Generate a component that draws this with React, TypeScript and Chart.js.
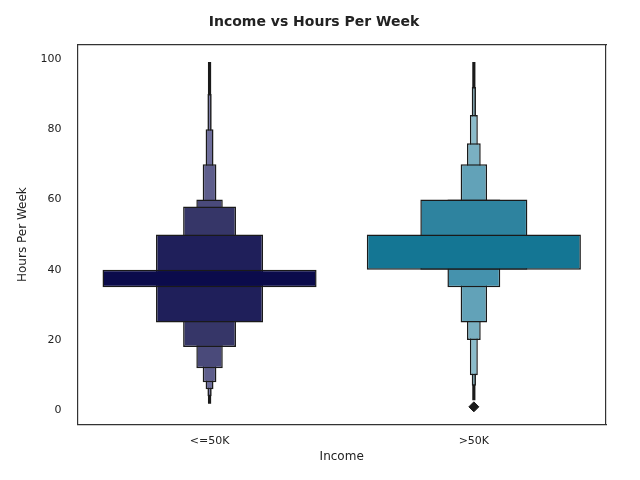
import { useRef, useEffect } from 'react'
import { Chart, registerables } from 'chart.js'

Chart.register(...registerables)

const categories = ['<=50K', '>50K']
// nested letter-value boxes, widest first: [low, high] per category
const levels: [number, number][][] = [
  [[35, 40], [40, 50]],
  [[25, 50], [40, 60]],
  [[18, 58], [35, 60]],
  [[12, 60], [25, 70]],
  [[8, 70], [20, 76]],
  [[6, 80], [10, 84]],
  [[4, 90], [7, 92]],
]
const levelWidths = [0.81, 0.405, 0.2, 0.1, 0.052, 0.03, 0.016]
const levelColors = [
  ['#0b0b4b', '#147694'],
  ['#1f1f5a', '#2e839f'],
  ['#363668', '#4592ad'],
  ['#4a4a7a', '#62a2b8'],
  ['#5e5e8c', '#7ab0c2'],
  ['#6e6e9c', '#8bbccb'],
  ['#8080aa', '#9cc7d4'],
]
const whiskers: [number, number][] = [[2, 99], [3, 99]]
const outliers = [null, 1]

export default function App() {
  const canvasRef = useRef<HTMLCanvasElement>(null)

  useEffect(() => {
    if (!canvasRef.current) return
    const boxSets: any[] = levels.map((data, i) => ({
      type: 'bar',
      data,
      order: i,
      backgroundColor: levelColors[i],
      borderColor: '#1a1a1a',
      borderWidth: 1.5,
      borderSkipped: false,
      barPercentage: levelWidths[i],
      categoryPercentage: 1,
      grouped: false,
    }))
    const chart = new Chart(canvasRef.current, {
      type: 'bar',
      data: {
        labels: categories,
        datasets: [
          {
            type: 'line',
            data: outliers,
            order: -1,
            showLine: false,
            pointStyle: 'rectRot',
            pointRadius: 5,
            backgroundColor: '#1a1a1a',
            borderColor: '#1a1a1a',
          } as any,
          ...boxSets,
          {
            type: 'bar',
            data: whiskers,
            order: 100,
            backgroundColor: '#1a1a1a',
            barThickness: 2.5,
            grouped: false,
          },
        ],
      },
      options: {
        animation: false,
        responsive: false,
        layout: { padding: { left: 14, right: 26, bottom: 16 } },
        plugins: {
          legend: { display: false },
          tooltip: { enabled: false },
          title: {
            display: true,
            text: 'Income vs Hours Per Week',
            color: '#222',
            font: { family: 'DejaVu Sans', size: 14, weight: 'bold' },
            padding: { top: 14, bottom: 6 },
          },
        },
        scales: {
          x: {
            grid: { display: false },
            border: { color: '#333', width: 1.2 },
            ticks: { color: '#222', font: { family: 'DejaVu Sans', size: 11 }, padding: 2 },
            title: { display: true, text: 'Income', color: '#222', font: { family: 'DejaVu Sans', size: 12 }, padding: 0 },
          },
          x2: {
            position: 'top',
            grid: { display: false },
            ticks: { display: false },
            border: { color: '#333', width: 1.2 },
          },
          y: {
            min: -4,
            max: 104,
            grid: { display: false },
            border: { color: '#333', width: 1.2 },
            ticks: {
              stepSize: 20,
              color: '#222',
              font: { family: 'DejaVu Sans', size: 11 },
              padding: 8,
              callback: (v: any) => (v % 20 === 0 && v >= 0 ? v : ''),
            },
            title: { display: true, text: 'Hours Per Week', color: '#222', font: { family: 'DejaVu Sans', size: 12 }, padding: 2 },
          },
          y2: {
            position: 'right',
            grid: { display: false },
            ticks: { display: false },
            border: { color: '#333', width: 1.2 },
          },
        },
      } as any,
    })
    return () => chart.destroy()
  }, [])

  return (
    <div style={{ position: 'absolute', left: 0, top: 0, width: 640, height: 480, background: '#fff' }}>
      <canvas ref={canvasRef} width={640} height={480} />
    </div>
  )
}
